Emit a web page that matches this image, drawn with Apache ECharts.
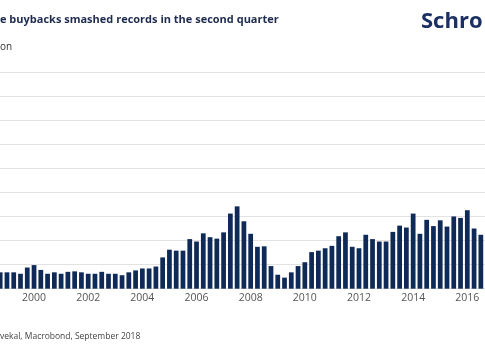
<!DOCTYPE html>
<html>
<head>
<meta charset="utf-8">
<script src="https://cdn.jsdelivr.net/npm/echarts@6/dist/echarts.min.js"></script>
<style>
html,body{margin:0;padding:0;background:#fff;overflow:hidden;width:485px;height:360px;}
#chart{position:absolute;left:-10px;top:0;width:510px;height:360px;}
</style>
</head>
<body>
<div id="chart"></div>
<script>
// Quarterly categories Q4 1998 .. Q4 2016
const quarters = [
  '1998Q4',
  '1999Q1','1999Q2','1999Q3','1999Q4',
  '2000Q1','2000Q2','2000Q3','2000Q4',
  '2001Q1','2001Q2','2001Q3','2001Q4',
  '2002Q1','2002Q2','2002Q3','2002Q4',
  '2003Q1','2003Q2','2003Q3','2003Q4',
  '2004Q1','2004Q2','2004Q3','2004Q4',
  '2005Q1','2005Q2','2005Q3','2005Q4',
  '2006Q1','2006Q2','2006Q3','2006Q4',
  '2007Q1','2007Q2','2007Q3','2007Q4',
  '2008Q1','2008Q2','2008Q3','2008Q4',
  '2009Q1','2009Q2','2009Q3','2009Q4',
  '2010Q1','2010Q2','2010Q3','2010Q4',
  '2011Q1','2011Q2','2011Q3','2011Q4',
  '2012Q1','2012Q2','2012Q3','2012Q4',
  '2013Q1','2013Q2','2013Q3','2013Q4',
  '2014Q1','2014Q2','2014Q3','2014Q4',
  '2015Q1','2015Q2','2015Q3','2015Q4',
  '2016Q1','2016Q2','2016Q3','2016Q4'
];
// Buybacks, $ billion
const buybacks = [
  34,
  34, 34, 31, 44,
  49, 39, 31, 34,
  31, 35, 36, 34,
  31, 31, 35, 31,
  31, 28, 34, 38,
  42, 42, 46, 65,
  81, 79, 79, 103,
  98, 115, 107, 104,
  117, 156, 171, 140,
  114, 87, 88, 47,
  29, 23, 34, 47,
  55, 76, 79, 84,
  89, 109, 117, 87,
  84, 112, 103, 98,
  98, 118, 131, 127,
  156, 114, 143, 130,
  142, 129, 150, 147,
  163, 125, 112, 135
];
const yearLabels = ['2000','2002','2004','2006','2008','2010','2012','2014','2016'];
const titleText = 'e buybacks smashed records in the second quarter';
const unitText = 'on';
const logoText = 'Schro';
const sourceText = 'vekal, Macrobond, September 2018';

const OFF = 10; // chart div is shifted 10px left of the page
const chart = echarts.init(document.getElementById('chart'), null, {renderer: 'canvas'});
chart.setOption({
  backgroundColor: '#ffffff',
  animation: false,
  grid: {left: OFF - 3.2, right: 510 - (491 + OFF), top: 72, bottom: 71.3, containLabel: false},
  xAxis: {
    type: 'category',
    data: quarters,
    boundaryGap: true,
    axisLine: {show: false},
    axisTick: {show: false},
    axisLabel: {
      interval: function (idx, val) {
        return val.endsWith('Q1') && yearLabels.indexOf(val.slice(0, 4)) >= 0;
      },
      formatter: function (val) { return val.slice(0, 4); },
      color: '#555555',
      fontFamily: 'Open Sans',
      fontSize: 10.5,
      margin: 4
    }
  },
  yAxis: {
    type: 'value',
    min: 0, max: 450, interval: 50,
    axisLabel: {show: false},
    axisLine: {show: false},
    axisTick: {show: false},
    splitLine: {lineStyle: {color: '#e2e2e2', width: 1}}
  },
  series: [{
    type: 'bar',
    data: buybacks,
    barCategoryGap: '30%',
    itemStyle: {color: '#0f2a57'}
  }],
  graphic: [
    {type: 'text', left: OFF, top: 14, style: {text: titleText, fill: '#1d2b4d', font: 'bold 11px "Open Sans"'}},
    {type: 'text', left: OFF, top: 42, style: {text: unitText, fill: '#333333', font: '10px "Open Sans"'}},
    {type: 'text', left: OFF + 421, top: 11, style: {text: logoText, fill: '#1b2f63', font: 'bold 22px "Open Sans"'}},
    {type: 'text', left: OFF, top: 332, style: {text: sourceText, fill: '#444444', font: '8.5px "Open Sans"'}}
  ]
});
</script>
</body>
</html>
